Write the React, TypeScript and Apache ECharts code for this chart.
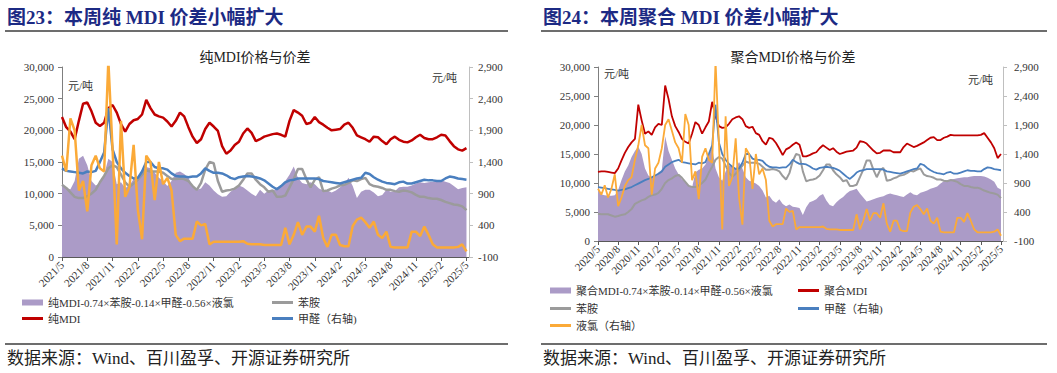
import React, { useEffect, useRef } from 'react';
import * as echarts from 'echarts';

// ---------- tick labels ----------
const LEFT_X_LABELS = ['2021/5','2021/8','2021/11','2022/2','2022/5','2022/8','2022/11','2023/2','2023/5','2023/8','2023/11','2024/2','2024/5','2024/8','2024/11','2025/2','2025/5'];
const RIGHT_X_LABELS = ['2020/5','2020/8','2020/11','2021/2', ...LEFT_X_LABELS];
const RIGHT_Y_TICKS = [-100, 400, 900, 1400, 1900, 2400, 2900];

// ---------- data: semi-monthly samples ----------
// shared raw materials, from 2020/5 (index 0) to 2025/5, one value per half month
const ANILINE = [4700,4600,4600,4600,4400,4200,4300,4500,4600,5000,5500,6400,6700,7000,7200,7600,7900,8000,8300,9000,10000,10500,10800,11200,
11400,10900,10200,9500,9300,9300,9600,10000,10600,11800,
12800,14000,14500,14200,13000,11800,11100,11600,12200,13000,
13700,13500,13500,13500,13300,12800,12300,12300,12400,12300,
12000,11200,10600,11700,13800,15000,14800,12000,10300,10500,
10600,10800,11300,12200,13200,13200,12200,11500,11000,10300,
10500,9500,9500,9700,11000,12300,13900,13900,12300,11000,
12200,12600,10400,10500,10800,11000,11300,11400,11700,12100,
12000,12300,12500,11500,11200,11100,10900,10600,10600,10400,
10300,10500,10400,10200,9800,9500,9500,9300,9200,9200,
9000,8700,8500,8300,8200,8000,7400];

const FORMALDEHYDE = [830,820,810,800,790,780,770,780,790,810,830,860,890,920,950,970,1000,1030,1060,1100,1180,1220,1260,1280,
1300,1260,1250,1240,1230,1220,1250,1240,1260,1400,
1550,2250,1600,1400,1300,1230,1180,1140,1150,1250,
1400,1400,1320,1300,1300,1280,1220,1180,1170,1170,
1160,1170,1170,1220,1300,1260,1230,1230,1220,1190,
1150,1130,1160,1170,1180,1170,1160,1140,1110,1060,
1010,970,1020,1080,1110,1120,1140,1140,1140,1140,
1140,1130,1100,1090,1080,1070,1060,1080,1100,1120,
1140,1150,1230,1210,1160,1120,1090,1070,1060,1050,
1080,1090,1060,1060,1080,1100,1120,1110,1110,1100,
1100,1140,1170,1160,1140,1130,1120];

const CHLORINE = [800,700,860,650,800,1050,500,650,850,950,1000,1300,1550,1900,1550,1500,700,1150,1250,1500,1900,2000,1800,1600,
1500,1250,2090,1900,950,1100,620,1350,1500,1300,
1250,3000,1600,100,2050,850,1000,1670,650,180,
1500,1400,800,1400,1050,1150,950,250,150,190,
190,190,460,400,420,100,140,140,140,140,
140,140,140,150,110,100,100,100,90,90,
90,90,90,360,100,250,450,250,380,380,
300,550,200,60,250,250,90,70,70,390,
490,520,450,360,460,250,200,300,60,50,
50,50,50,300,300,230,380,250,100,50,
50,50,50,50,60,100,-10];

// pure MDI, from 2021/5
const PURE_MDI = [22100,20500,19800,18600,21500,24200,24400,23000,21200,20700,
21200,23500,24000,22800,21000,19800,21000,21600,21800,22500,
24800,23500,22500,22200,22000,21400,20600,21500,22800,22200,
20500,19000,18000,18600,20200,21200,20600,19900,17500,16300,
16800,17700,18200,19500,20300,19600,18300,18600,19000,19200,
19400,19500,19300,19000,21500,23200,22800,22300,21000,21200,
22100,21300,20900,20400,20000,20100,20200,20900,21200,20400,
19200,18900,18600,18200,19000,18900,18300,17800,18600,19000,
18500,18200,18100,18400,18900,19300,18800,18600,18600,18900,
19300,19200,18300,17500,17000,16800,17200];

const PURE_SPREAD = [11400,10900,10700,12000,15500,16000,14500,12000,11300,11600,
13000,15500,15000,11500,11800,10900,11300,12300,12700,13500,
14200,14000,13300,12500,12000,11200,12000,13300,13500,13100,
12500,11200,10600,10800,11800,11300,10500,9900,9500,9600,
10300,10800,11300,11000,10500,10000,9600,10600,10000,10500,
10300,11000,11200,12000,13000,14300,12500,11700,11500,11800,
11500,10800,10500,10500,10200,10500,11000,11500,12500,11200,
9300,10300,10600,10600,10200,9600,9800,10600,10300,10400,
11000,11100,11100,11300,11600,11800,11700,11800,11900,12000,
12100,11900,11700,11200,10700,10900,11000];

// polymeric MDI, from 2020/5
const POLY_MDI = [11900,12000,12000,11900,11800,11700,12500,13900,15200,16200,
17000,17600,23500,20800,18500,18900,18300,19600,20200,20000,
26800,24500,21500,19800,18800,17600,17100,16800,18500,20500,
20000,18500,19600,20600,24000,21500,19800,19500,19600,20200,
21000,21300,21500,21000,19800,19500,19700,18600,18300,17200,
16600,17800,17600,16900,15900,14800,15800,16100,16600,17000,
16600,14600,14600,14800,15100,15300,16000,16500,16100,15700,
16000,15400,15000,15200,15400,15500,15600,16100,17200,17100,
16800,16200,15600,15100,15200,15600,15600,15600,15300,15300,
15300,16200,16800,16500,16200,16400,16700,17000,17400,17800,
17900,17400,17400,17800,18000,18300,18200,18200,18200,18200,
18200,18200,18200,18200,18300,18600,17800,17000,16000,14300,
15000];

const POLY_SPREAD = [9300,8000,7900,7800,7800,7900,8800,10500,12000,13000,
14500,15500,16300,15000,12500,11300,11000,11200,11800,12300,
18000,15500,14000,12500,11500,10600,10200,9600,9200,11800,
12300,12500,13200,14800,16200,12500,11000,10400,12000,13000,
12800,12600,13600,12500,11000,10400,10200,9900,9500,8700,
7500,7800,7000,6600,7200,6400,6000,6300,5900,5800,
5700,4500,5800,6700,6900,7200,7800,8100,7000,6200,
6000,6700,7200,7600,8200,8600,8800,9000,8200,7500,
6800,7000,7200,7400,7600,7700,8000,8200,8000,7900,
7700,7600,8000,8400,8000,7900,8300,8500,8700,9000,
9200,9400,9900,10300,10500,10600,10700,10800,10900,11000,
11000,11100,11200,11200,11200,11100,10900,10600,10200,9200,
8900];

const LEFT_START = 24; // 2021/5 within the shared arrays
const STEP = 0.5; // months per sample

const N_PURE_SPREAD = '纯MDI-0.74×苯胺-0.14×甲醛-0.56×液氯';
const N_POLY_SPREAD = '聚合MDI-0.74×苯胺-0.14×甲醛-0.56×液氯';
const N_ANILINE = '苯胺';
const N_PURE = '纯MDI';
const N_POLY = '聚合MDI';
const N_FORM = '甲醛（右轴)';
const N_CL = '液氯（右轴）';

const C_PURPLE = '#ab9bc7';
const C_RED = '#c00000';
const C_GRAY = '#9b9b9b';
const C_BLUE = '#4a7fbf';
const C_ORANGE = '#fbaa38';

const SERIF = '"Liberation Serif", "Noto Sans CJK SC", serif';
const NAVY = '#1c2a84';

const xy = (arr: number[], start = 0) => arr.slice(start).map((v, i) => [i * STEP, v]);
const fmt = (v: number) => Math.round(v).toLocaleString('en-US');

function xAxisFor(gridIndex: number, labels: string[], max: number) {
  const ticks = labels.map((_, i) => i * 3);
  return {
    gridIndex, type: 'value', min: 0, max,
    axisLine: { show: true, onZero: false, lineStyle: { color: '#595959', width: 1 } },
    axisTick: { show: true, length: 4, customValues: ticks, lineStyle: { color: '#595959' } },
    axisLabel: {
      customValues: ticks, rotate: 45, margin: 6, fontSize: 11, fontFamily: SERIF, color: '#333',
      formatter: (v: number) => labels[Math.round(v / 3)] ?? '',
    },
    splitLine: { show: false },
  };
}

function yLeft(gridIndex: number) {
  return {
    gridIndex, type: 'value', min: 0, max: 30000, interval: 5000, position: 'left',
    axisLine: { show: true, lineStyle: { color: '#7f7f7f' } },
    axisTick: { show: true, length: 4, lineStyle: { color: '#7f7f7f' } },
    axisLabel: { formatter: fmt, margin: 8, fontSize: 11, fontFamily: SERIF, color: '#333' },
    splitLine: { show: false },
  };
}

function yRight(gridIndex: number, margin: number) {
  return {
    gridIndex, type: 'value', min: -100, max: 2900, position: 'right',
    axisLine: { show: true, lineStyle: { color: '#bfbfbf' } },
    axisTick: { show: true, length: 4, customValues: RIGHT_Y_TICKS, lineStyle: { color: '#bfbfbf' } },
    axisLabel: { customValues: RIGHT_Y_TICKS, formatter: fmt, margin, fontSize: 11, fontFamily: SERIF, color: '#333' },
    splitLine: { show: false },
  };
}

function lineSeries(name: string, data: number[][], color: string, xi: number, yi: number, width: number, z: number) {
  return {
    name, type: 'line', data, xAxisIndex: xi, yAxisIndex: yi, color,
    showSymbol: false, symbol: 'none', lineStyle: { color, width }, z, clip: true,
  };
}

function areaSeries(name: string, data: number[][], xi: number, yi: number) {
  return {
    name, type: 'line', data, xAxisIndex: xi, yAxisIndex: yi, color: C_PURPLE,
    showSymbol: false, symbol: 'none', lineStyle: { width: 0, color: C_PURPLE },
    areaStyle: { color: C_PURPLE, opacity: 1 }, z: 1,
  };
}

const legendBase = {
  orient: 'horizontal', padding: 0, itemWidth: 21, itemGap: 0, selectedMode: false,
  textStyle: { fontSize: 11, fontFamily: SERIF, color: '#333' },
};
const legendItem = (name: string, left: number, top: number, h: number) => ({
  ...legendBase, left, top, itemHeight: h, data: [{ name, icon: 'rect' }],
});

const text = (t: string, x: number, y: number, size: number, fill: string, extra: any = {}) => ({
  type: 'text', x, y, silent: true,
  style: { text: t, fontSize: size, fontFamily: SERIF, fill, verticalAlign: 'middle', align: 'left', ...extra },
});
const rule = (x1: number, x2: number, y: number) => ({
  type: 'line', silent: true, shape: { x1, y1: y, x2, y2: y }, style: { stroke: '#3c3c3c', lineWidth: 1.5 },
});

export default function App() {
  const ref = useRef<HTMLDivElement>(null);
  useEffect(() => {
    if (!ref.current) return;
    const chart = echarts.init(ref.current, null, { renderer: 'svg' });
    const option: any = {
      animation: false,
      backgroundColor: '#ffffff',
      grid: [
        { left: 62, top: 67, width: 407, height: 190 },
        { left: 598, top: 67, width: 405, height: 174 },
      ],
      xAxis: [xAxisFor(0, LEFT_X_LABELS, 48.3), xAxisFor(1, RIGHT_X_LABELS, 60.3)],
      yAxis: [yLeft(0), yRight(0, 9), yLeft(1), yRight(1, 11)],
      legend: [
        legendItem(N_PURE_SPREAD, 22, 297, 6),
        legendItem(N_PURE, 22, 313, 3),
        legendItem(N_ANILINE, 272, 297, 3),
        legendItem(N_FORM, 272, 313, 3),
        legendItem(N_POLY_SPREAD, 550, 285, 6),
        legendItem(N_POLY, 798, 285, 3),
        legendItem(N_ANILINE, 550, 303, 3),
        legendItem(N_FORM, 798, 303, 3),
        legendItem(N_CL, 550, 320, 3),
      ],
      series: [
        areaSeries(N_PURE_SPREAD, xy(PURE_SPREAD), 0, 0),
        lineSeries(N_ANILINE, xy(ANILINE, LEFT_START), C_GRAY, 0, 0, 2.5, 2),
        lineSeries(N_PURE, xy(PURE_MDI), C_RED, 0, 0, 2.5, 3),
        lineSeries(N_FORM, xy(FORMALDEHYDE, LEFT_START), C_BLUE, 0, 1, 2.5, 4),
        lineSeries(N_CL, xy(CHLORINE, LEFT_START), C_ORANGE, 0, 1, 2.5, 5),

        areaSeries(N_POLY_SPREAD, xy(POLY_SPREAD), 1, 2),
        lineSeries(N_ANILINE, xy(ANILINE), C_GRAY, 1, 2, 2, 2),
        lineSeries(N_POLY, xy(POLY_MDI), C_RED, 1, 2, 1.8, 3),
        lineSeries(N_FORM, xy(FORMALDEHYDE), C_BLUE, 1, 3, 1.8, 4),
        lineSeries(N_CL, xy(CHLORINE), C_ORANGE, 1, 3, 1.8, 5),
      ],
      graphic: [
        text('图23：本周纯 MDI 价差小幅扩大', 7, 17, 19, NAVY, { fontWeight: 'bold' }),
        text('图24：本周聚合 MDI 价差小幅扩大', 543, 17, 19, NAVY, { fontWeight: 'bold' }),
        rule(5, 508, 31),
        rule(541, 1047, 31),
        text('纯MDI价格与价差', 255, 57, 14, '#222', { align: 'center' }),
        text('聚合MDI价格与价差', 793, 57, 14, '#222', { align: 'center' }),
        text('元/吨', 68, 86, 11, '#333'),
        text('元/吨', 432, 78, 11, '#333'),
        text('元/吨', 604, 74, 11, '#333'),
        text('元/吨', 968, 80, 11, '#333'),
        rule(5, 508, 344),
        rule(541, 1047, 344),
        text('数据来源：Wind、百川盈孚、开源证券研究所', 7, 358, 17, '#222'),
        text('数据来源：Wind、百川盈孚、开源证券研究所', 543, 358, 17, '#222'),
      ],
    };
    chart.setOption(option);
    return () => chart.dispose();
  }, []);
  return (
    <div
      ref={ref}
      style={{ position: 'fixed', left: 0, top: 0, width: 1057, height: 373, background: '#fff' }}
    />
  );
}
